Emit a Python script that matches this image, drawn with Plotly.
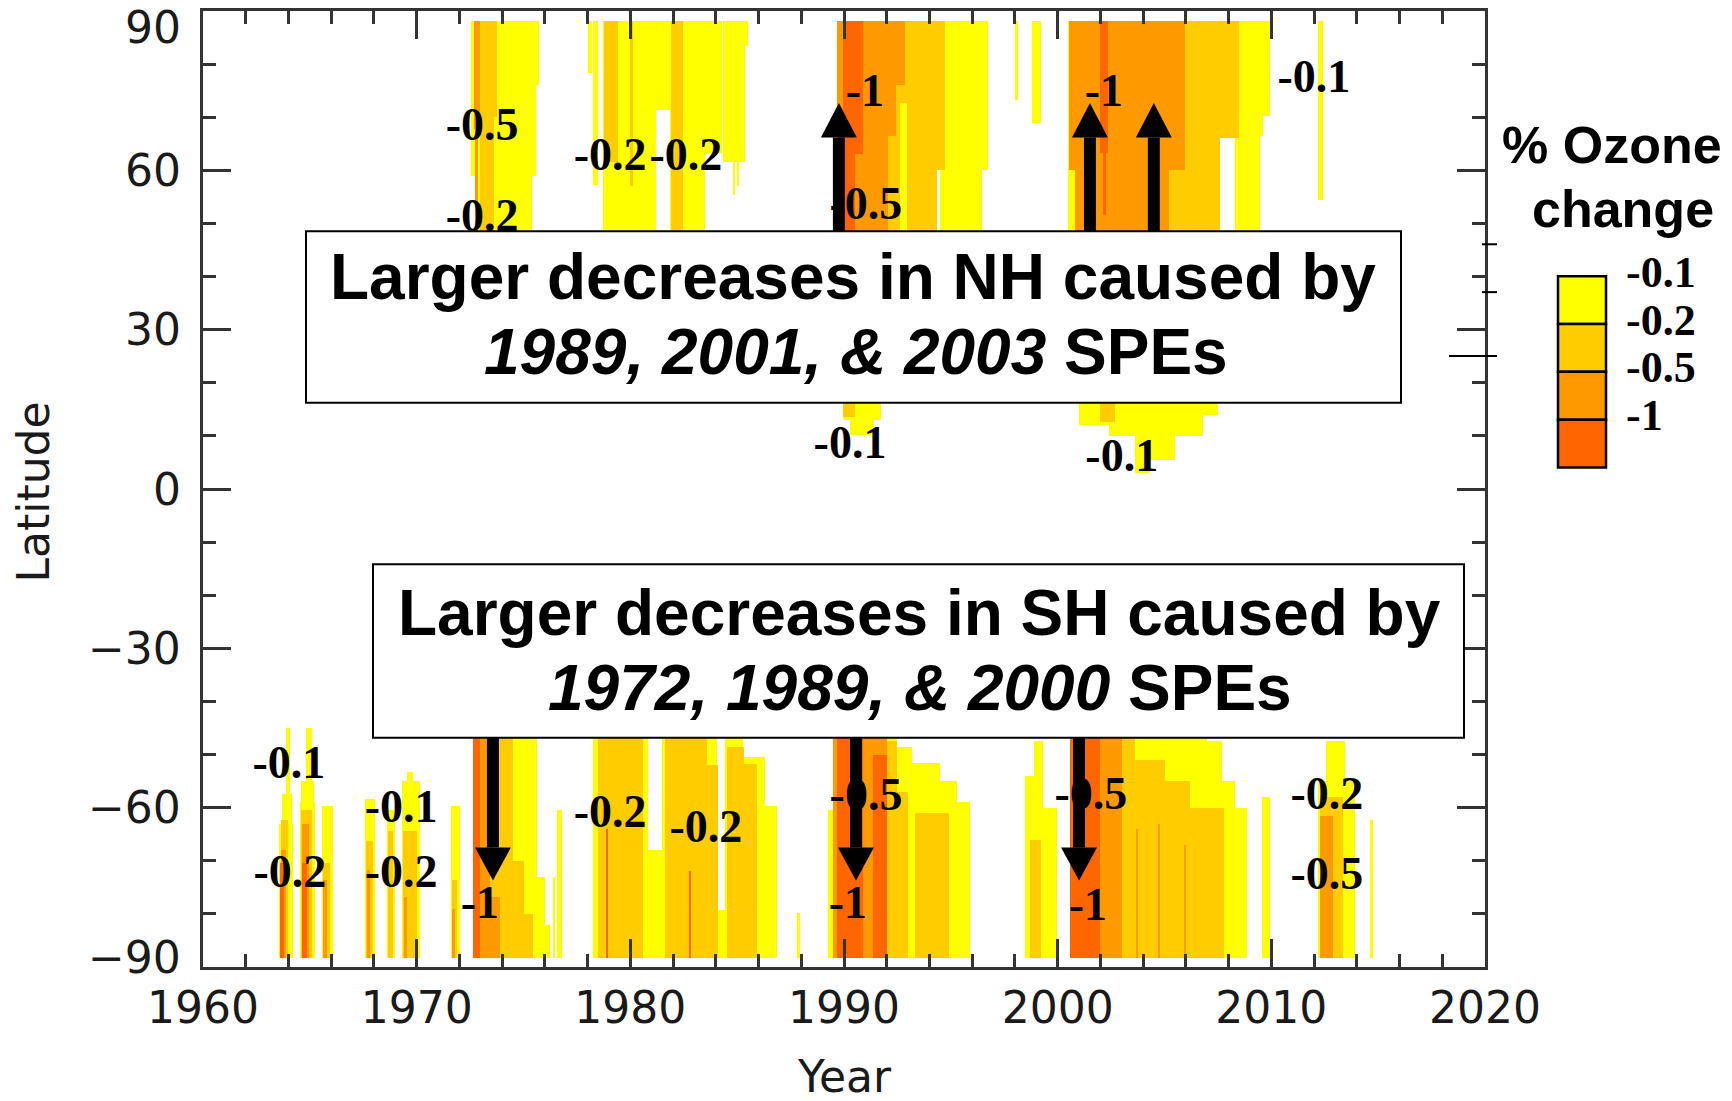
import plotly.graph_objects as go

# ---------------------------------------------------------------------------
# Ozone change bands: (start year, end year, edge latitude)
# NH bands fill from the edge latitude up to the pole row,
# SH bands fill from the pole row up to the edge latitude.
# ---------------------------------------------------------------------------
NH_TOP = 88.2
SH_BOTTOM = -88.3

nh_yellow = [
    (1972.55, 1975.72, 76.0), (1972.55, 1975.58, 59.0), (1972.82, 1975.40, 45.0),
    (1978.00, 1978.20, 78.4), (1978.25, 1978.50, 57.2), (1978.70, 1981.20, 45.0),
    (1981.20, 1981.85, 71.4), (1981.85, 1984.30, 63.3), (1981.85, 1983.50, 45.0),
    (1984.35, 1985.50, 83.4), (1984.35, 1985.36, 61.5), (1984.80, 1984.90, 55.3),
    (1985.00, 1985.08, 57.0),
    (1989.95, 1990.30, 13.0), (1990.30, 1991.40, 10.2), (1991.40, 1991.75, 13.0),
    (1992.60, 1992.95, 45.0), (1994.50, 1996.73, 60.0), (1994.50, 1996.45, 45.0),
    (1998.00, 1998.12, 73.3), (1998.80, 1999.20, 69.0),
    (2000.50, 2000.80, 45.0), (2001.00, 2002.40, 12.0), (2002.40, 2003.60, 10.0),
    (2003.60, 2004.30, 3.0), (2004.30, 2005.50, 5.5), (2005.50, 2006.80, 10.0),
    (2006.80, 2007.50, 14.0), (2008.30, 2009.93, 70.3), (2008.30, 2009.60, 66.5),
    (2008.30, 2009.46, 45.0), (2012.20, 2012.40, 54.5),
]
nh_gold = [
    (1972.95, 1973.76, 70.0), (1972.95, 1973.60, 45.0),
    (1978.75, 1979.40, 61.5), (1980.00, 1980.12, 57.0), (1981.90, 1982.45, 45.0),
    (1989.95, 1990.50, 13.6), (1992.05, 1992.60, 45.0), (1992.60, 1992.95, 72.7),
    (1992.95, 1994.72, 60.0), (1992.95, 1994.35, 45.0),
    (2002.00, 2002.70, 12.7), (2005.90, 2008.50, 66.0), (2005.20, 2007.60, 45.0),
]
nh_orange = [
    (1972.70, 1972.96, 67.7), (1972.75, 1972.88, 45.0),
    (1989.65, 1992.85, 76.0), (1989.65, 1992.45, 66.5), (1989.65, 1992.05, 45.0),
    (2000.55, 2005.95, 60.0), (2000.80, 2005.20, 45.0),
]
nh_red = [
    (1989.95, 1990.90, 63.0), (1989.95, 1990.50, 45.0),
    (2001.98, 2002.35, 63.3), (2002.10, 2002.25, 51.5),
]

sh_yellow = [
    (1963.56, 1964.23, -63.0), (1963.70, 1964.15, -57.4), (1963.88, 1964.07, -45.0),
    (1964.54, 1965.24, -59.0), (1964.60, 1965.20, -55.0), (1964.82, 1965.09, -45.0),
    (1965.55, 1966.10, -59.6), (1967.58, 1968.05, -58.3), (1968.60, 1968.98, -60.5),
    (1969.30, 1970.15, -54.9), (1969.53, 1969.84, -53.3), (1971.59, 1972.03, -59.6),
    (1972.62, 1975.62, -45.0), (1972.62, 1976.00, -73.0), (1972.62, 1976.24, -82.0),
    (1976.39, 1976.45, -73.0), (1976.55, 1976.79, -60.5),
    (1978.26, 1980.84, -45.0), (1980.84, 1981.46, -68.0), (1981.46, 1984.04, -45.0),
    (1984.04, 1984.43, -79.3), (1984.43, 1985.28, -45.0), (1985.28, 1986.30, -50.5),
    (1986.30, 1986.85, -59.6), (1987.78, 1987.94, -79.9),
    (1989.26, 1989.50, -60.5), (1989.50, 1992.46, -45.0), (1992.46, 1993.20, -48.6),
    (1993.20, 1994.50, -51.5), (1994.50, 1995.30, -55.0), (1995.30, 1995.89, -59.0),
    (1998.47, 1998.90, -54.0), (1998.90, 1999.30, -47.5), (1999.30, 1999.95, -60.0),
    (2000.57, 2007.00, -45.0), (2007.00, 2007.67, -47.5), (2007.67, 2008.30, -55.0),
    (2008.30, 2008.84, -60.0), (2009.54, 2009.93, -58.0),
    (2012.19, 2013.91, -54.9), (2012.58, 2013.44, -47.4), (2014.61, 2014.76, -62.4),
]
sh_gold = [
    (1963.65, 1964.00, -62.4), (1964.60, 1965.10, -60.5), (1965.63, 1965.94, -70.5),
    (1967.61, 1967.97, -66.2), (1968.67, 1968.90, -64.3), (1969.37, 1970.00, -64.3),
    (1971.64, 1971.87, -73.7),
    (1973.43, 1974.52, -45.0), (1973.43, 1975.00, -70.0), (1973.43, 1975.46, -80.0),
    (1978.50, 1980.60, -45.0), (1981.60, 1983.60, -45.0), (1983.60, 1984.10, -52.0),
    (1984.51, 1985.30, -48.6), (1984.51, 1985.91, -51.8),
    (1991.99, 1992.46, -47.4), (1992.46, 1993.00, -57.0), (1993.30, 1994.90, -61.0),
    (1998.70, 1999.20, -66.0),
    (2002.99, 2003.60, -45.0), (2003.60, 2005.00, -51.0), (2005.00, 2006.20, -55.0),
    (2006.20, 2007.80, -60.0), (2012.27, 2013.36, -58.0),
]
sh_orange = [
    (1963.65, 1963.90, -68.0), (1964.62, 1964.95, -63.0), (1965.63, 1965.80, -73.7),
    (1967.66, 1967.81, -71.8), (1969.40, 1969.56, -76.8), (1971.64, 1971.78, -79.0),
    (1972.96, 1973.43, -45.0), (1972.96, 1973.90, -76.8),
    (1989.50, 1991.99, -45.0),
    (2001.98, 2002.99, -45.0), (2003.65, 2003.75, -64.0), (2004.70, 2004.80, -63.0),
    (2005.90, 2006.00, -67.0), (2012.27, 2012.89, -61.5),
]
sh_red = [
    (1963.62, 1963.80, -70.5), (1964.62, 1964.85, -70.5), (1972.62, 1972.96, -45.0),
    (1978.85, 1978.95, -64.0), (1982.75, 1982.85, -72.0),
    (1989.65, 1990.90, -45.0), (1991.37, 1991.99, -50.0), (2000.57, 2001.98, -45.0),
]

level_labels = ["-0.1", "-0.2", "-0.5", "-1"]
level_colors = ["#FFFF00", "#FFCC00", "#FF9900", "#FF6600"]

# Contour value labels written inside the plot: (text, year, latitude)
value_labels = [
    ("-0.5", 1973.06, 67.8), ("-0.2", 1973.06, 50.8),
    ("-0.2", 1979.05, 62.2), ("-0.2", 1982.60, 62.2),
    ("-1", 1990.98, 74.2), ("-0.5", 1991.02, 53.0), ("-1", 2002.16, 74.2),
    ("-0.1", 2011.99, 77.0), ("-0.1", 1990.28, 8.0), ("-0.1", 2003.00, 5.5),
    ("-0.1", 1964.02, -52.3), ("-0.2", 1964.07, -72.7),
    ("-0.1", 1969.27, -60.5), ("-0.2", 1969.27, -72.7),
    ("-1", 1972.96, -78.7), ("-0.2", 1979.05, -61.5), ("-0.2", 1983.54, -64.3),
    ("-0.5", 1991.03, -58.3), ("-1", 1990.18, -78.7),
    ("-0.5", 2001.55, -58.1), ("-1", 2001.41, -78.9),
    ("-0.2", 2012.60, -58.1), ("-0.5", 2012.60, -73.1),
]

# SPE event arrows (years)
nh_arrow_years = [1989.76, 2001.51, 2004.50]
sh_arrow_years = [1973.57, 1990.56, 2001.00]

x_ticks = [1960, 1970, 1980, 1990, 2000, 2010, 2020]
y_ticks = [-90, -60, -30, 0, 30, 60, 90]

# ---------------------------------------------------------------------------
# Figure geometry helpers (pixel positions of the plotting frame)
# ---------------------------------------------------------------------------
W, H = 1732, 1101
L, R, T, B = 203, 1485, 8, 967


def pxx(x):
    return (x - L) / (R - L)


def pxy(y):
    return (B - y) / (B - T)


TICK_FONT = dict(family="DejaVu Sans", size=44, color="#1a1a1a")
SERIF_BOLD = dict(family="Liberation Serif, Times New Roman, serif", size=46, color="black")
SANS_BOLD = "Liberation Sans, Arial, sans-serif"

fig = go.Figure()


def add_bands(rects, color, north):
    xs, ys, bases, widths = [], [], [], []
    for x0, x1, edge in rects:
        xs.append((x0 + x1) / 2)
        widths.append(x1 - x0)
        if north:
            bases.append(edge)
            ys.append(NH_TOP - edge)
        else:
            bases.append(SH_BOTTOM)
            ys.append(edge - SH_BOTTOM)
    fig.add_trace(go.Bar(
        x=xs, y=ys, base=bases, width=widths,
        marker=dict(color=color, line=dict(width=0)),
        hoverinfo="skip", showlegend=False,
    ))


for (nh, sh), col in zip([(nh_yellow, sh_yellow), (nh_gold, sh_gold),
                          (nh_orange, sh_orange), (nh_red, sh_red)], level_colors):
    add_bands(nh, col, True)
    add_bands(sh, col, False)

fig.add_trace(go.Scatter(
    x=[v[1] for v in value_labels], y=[v[2] for v in value_labels],
    text=["<b>%s</b>" % v[0] for v in value_labels],
    mode="text", textposition="middle center", textfont=SERIF_BOLD,
    hoverinfo="skip", showlegend=False,
))

shapes = []
# Text boxes
NH_BOX = dict(x0=306, x1=1401, y0=229, y1=401)
SH_BOX = dict(x0=373, x1=1464, y0=563, y1=737)
for bx in (NH_BOX, SH_BOX):
    shapes.append(dict(type="rect", xref="paper", yref="paper",
                       x0=pxx(bx["x0"]), x1=pxx(bx["x1"]),
                       y0=pxy(bx["y1"]), y1=pxy(bx["y0"]),
                       fillcolor="white", line=dict(color="black", width=2),
                       layer="above"))

# Arrows (data coordinates)
SHAFT_HALF = 0.28
HEAD_HALF = 0.84
nh_shaft = (48.5, 66.2, 72.7)     # shaft start, head base, tip
sh_shaft = (-46.8, -67.5, -73.7)
for yrs, (s0, hb, tip) in ((nh_arrow_years, nh_shaft), (sh_arrow_years, sh_shaft)):
    for xa in yrs:
        shapes.append(dict(type="rect", xref="x", yref="y",
                           x0=xa - SHAFT_HALF, x1=xa + SHAFT_HALF, y0=s0, y1=hb,
                           fillcolor="black", line=dict(width=0), layer="above"))
        shapes.append(dict(type="path", xref="x", yref="y",
                           path="M %f,%f L %f,%f L %f,%f Z" % (
                               xa - HEAD_HALF, hb, xa + HEAD_HALF, hb, xa, tip),
                           fillcolor="black", line=dict(width=0), layer="above"))

# Legend swatches
SW_X0, SW_X1 = 1558, 1606
SW_Y0, SW_H = 274, 48
for i, col in enumerate(level_colors):
    shapes.append(dict(type="rect", xref="paper", yref="paper",
                       x0=pxx(SW_X0), x1=pxx(SW_X1),
                       y0=pxy(SW_Y0 + (i + 1) * SW_H), y1=pxy(SW_Y0 + i * SW_H),
                       fillcolor=col, line=dict(color="black", width=2.5)))

# Small stray tick marks beside the right frame
for x0, x1, y in ((1482, 1497, 242), (1482, 1497, 290), (1449, 1497, 354)):
    shapes.append(dict(type="line", xref="paper", yref="paper",
                       x0=pxx(x0), x1=pxx(x1), y0=pxy(y), y1=pxy(y),
                       line=dict(color="black", width=2)))

annotations = []
# Box texts
box_lines = [
    ("<b>Larger decreases in NH caused by</b>", 853, 275),
    ("<b><i>1989, 2001, &amp; 2003</i> SPEs</b>", 856, 350),
    ("<b>Larger decreases in SH caused by</b>", 919, 612),
    ("<b><i>1972, 1989, &amp; 2000</i> SPEs</b>", 920, 687),
]
for txt, cx, cy in box_lines:
    annotations.append(dict(text=txt, xref="paper", yref="paper",
                            x=pxx(cx), y=pxy(cy), xanchor="center", yanchor="middle",
                            showarrow=False,
                            font=dict(family=SANS_BOLD, size=64, color="black")))

# Legend title and labels
annotations.append(dict(text="<b>% Ozone</b>", xref="paper", yref="paper",
                        x=pxx(1612), y=pxy(142), xanchor="center", yanchor="middle",
                        showarrow=False, font=dict(family=SANS_BOLD, size=52, color="black")))
annotations.append(dict(text="<b>change</b>", xref="paper", yref="paper",
                        x=pxx(1623), y=pxy(207), xanchor="center", yanchor="middle",
                        showarrow=False, font=dict(family=SANS_BOLD, size=52, color="black")))
for i, lab in enumerate(level_labels):
    annotations.append(dict(text="<b>%s</b>" % lab, xref="paper", yref="paper",
                            x=pxx(1624), y=pxy(SW_Y0 - 4 + i * SW_H),
                            xanchor="left", yanchor="middle", showarrow=False,
                            font=dict(family=SERIF_BOLD["family"], size=44, color="black")))

# Latitude tick labels (end labels sit just inside the frame)
for v in y_ticks:
    shift = -16 if v == 90 else (10 if v == -90 else 0)
    annotations.append(dict(text=str(v).replace("-", "\u2212"), xref="paper", yref="y",
                            x=0, y=v, xanchor="right", yanchor="middle",
                            xshift=-20, yshift=shift, showarrow=False, font=TICK_FONT))

# Axis titles
annotations.append(dict(text="Latitude", xref="paper", yref="paper",
                        x=pxx(33), y=pxy(491), textangle=-90,
                        xanchor="center", yanchor="middle", showarrow=False, font=TICK_FONT))
annotations.append(dict(text="Year", xref="x", yref="paper",
                        x=1990, y=pxy(1077), xanchor="center", yanchor="middle",
                        showarrow=False, font=TICK_FONT))

AX_COL = "#333333"
fig.update_layout(
    width=W, height=H, autosize=False,
    margin=dict(l=L, r=W - R, t=T, b=H - B, pad=0),
    paper_bgcolor="white", plot_bgcolor="white",
    barmode="overlay", bargap=0,
    shapes=shapes, annotations=annotations,
    xaxis=dict(range=[1960, 2020], tickvals=x_ticks, ticks="inside", ticklen=28,
               tickwidth=2.5, tickcolor=AX_COL, showline=True, linewidth=2.5,
               linecolor=AX_COL, mirror="ticks", showgrid=False, zeroline=False,
               tickfont=TICK_FONT, ticklabelstandoff=0,
               minor=dict(dtick=2, tick0=1960, ticks="inside", ticklen=13,
                          tickwidth=2.5, tickcolor=AX_COL, showgrid=False)),
    yaxis=dict(range=[-90, 90], tickvals=y_ticks, ticks="inside", ticklen=28,
               tickwidth=2.5, tickcolor=AX_COL, showline=True, linewidth=2.5,
               linecolor=AX_COL, mirror="ticks", showgrid=False, zeroline=False,
               showticklabels=False,
               minor=dict(dtick=10, tick0=-90, ticks="inside", ticklen=13,
                          tickwidth=2.5, tickcolor=AX_COL, showgrid=False)),
)

fig.write_html("out.html")
